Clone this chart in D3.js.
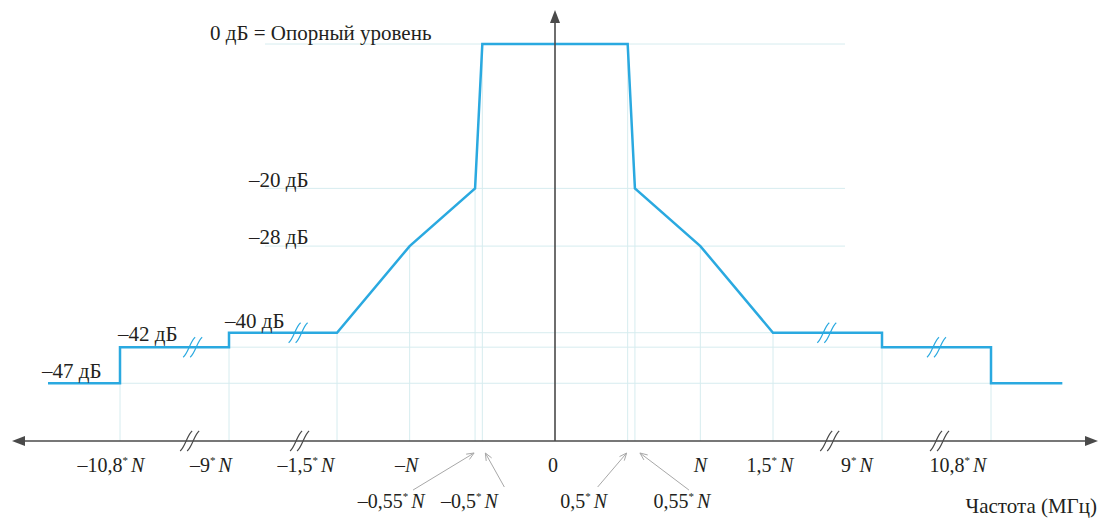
<!DOCTYPE html>
<html>
<head>
<meta charset="utf-8">
<script src="https://cdn.jsdelivr.net/npm/d3@7"></script>
<style>
  html, body { margin: 0; padding: 0; background: #fff; }
  svg { display: block; }
</style>
</head>
<body>
<svg id="chart" width="1102" height="518"></svg>
<script>
// Spectrum emission mask: frequency offset (in units of N) and level (dB)
const maskFreq  = [-12, -10.8, -10.8, -9, -9, -1.5, -1, -0.55, -0.5, 0.5, 0.55, 1, 1.5, 9, 9, 10.8, 10.8, 12];
const maskLevel = [-47, -47, -42, -42, -40, -40, -28, -20, 0, 0, -20, -28, -40, -40, -42, -42, -47, -47];

// Level annotations
const levelValues = [0, -20, -28, -40, -42, -47];
const levelLabels = ["0 дБ = Опорный уровень", "–20 дБ", "–28 дБ", "–40 дБ", "–42 дБ", "–47 дБ"];

// Frequency tick labels (first row) and arrow-pointed labels (second row)
const tickValues = [-10.8, -9, -1.5, -1, 0, 1, 1.5, 9, 10.8];
const tickLabels = ["–10,8*N", "–9*N", "–1,5*N", "–N", "0", "N", "1,5*N", "9*N", "10,8*N"];
const edgeValues = [-0.55, -0.5, 0.5, 0.55];
const edgeLabels = ["–0,55*N", "–0,5*N", "0,5*N", "0,55*N"];

// Axis breaks (frequency positions) on the axis and on the mask
const axisBreaks = [-9.65, -4.1, 5.4, 9.95];
const maskBreaks = [-9.6, -4.2, 5.2, 9.9];

const axisTitle = "Частота (МГц)";

const FONT = "'Liberation Serif', 'Times New Roman', Tinos, 'DejaVu Serif', 'Noto Serif', FreeSerif, serif";
const svg = d3.select("#chart");
const blue = "#2aa9e0";
const grid = "#d6ecef";
const axisColor = "#4a4a4a";
const ink = "#231f20";

// Piecewise (broken) frequency scale
const x = d3.scaleLinear()
  .domain([-12.6, -10.8, -9, -1.5, 1.5, 9, 10.8, 12.6])
  .range([12, 120, 229, 337, 773, 882, 991, 1098]);
const y = d3.scaleLinear().domain([-55, 0]).range([441, 44]);
const axisY = y(-55);

const pts = maskFreq.map((f, i) => [f, maskLevel[i]]);

function label(px, py, size) {
  return svg.append("text").attr("x", px).attr("y", py)
    .attr("font-family", FONT).attr("font-size", size).attr("fill", ink);
}

// ---- grid lines ----
const g = svg.append("g").attr("stroke", grid).attr("stroke-width", 1).attr("fill", "none");
const hExtent = {0: [265, 845], "-20": [265, 845], "-28": [265, 845], "-40": [x(-9), x(9)], "-42": [x(-10.8), x(10.8)], "-47": [x(-10.8), x(10.8)]};
levelValues.forEach(v => {
  const [a, b] = hExtent[v];
  g.append("line").attr("x1", a).attr("x2", b).attr("y1", y(v)).attr("y2", y(v));
});
// vertical lines from mask corners to the axis
const corners = [];
pts.forEach(([f, l]) => {
  if (Math.abs(f) === 12) return;
  const existing = corners.find(c => c[0] === f);
  if (existing) existing[1] = Math.min(existing[1], l); else corners.push([f, l]);
});
corners.forEach(([f, l]) => {
  g.append("line").attr("x1", x(f)).attr("x2", x(f)).attr("y1", y(l)).attr("y2", axisY);
});

// ---- mask ----
svg.append("path")
  .datum(pts)
  .attr("d", d3.line().x(d => x(d[0])).y(d => y(d[1])))
  .attr("fill", "none")
  .attr("stroke", blue)
  .attr("stroke-width", 2.5)
  .attr("stroke-linejoin", "miter");

// break symbol: two slanted S-curves
function breakPath(cx, cy) {
  let d = "";
  [-3.5, 3.5].forEach(dx => {
    const c = cx + dx;
    d += `M${c - 6},${cy + 10} C${c - 1},${cy + 6} ${c + 1},${cy - 6} ${c + 6},${cy - 10} `;
  });
  return d;
}
function levelAt(f) {
  for (let i = 0; i < pts.length - 1; i++) {
    const [f0, l0] = pts[i], [f1, l1] = pts[i + 1];
    if (f >= f0 && f <= f1 && f1 > f0) return l0 + (l1 - l0) * (f - f0) / (f1 - f0);
  }
  return 0;
}
maskBreaks.forEach(f => {
  svg.append("path").attr("d", breakPath(x(f), y(levelAt(f))))
    .attr("fill", "none").attr("stroke", blue).attr("stroke-width", 1.2);
});

// ---- axes ----
const ax = svg.append("g");
ax.append("line").attr("x1", x(-12.6) + 8).attr("x2", x(12.6) - 8)
  .attr("y1", axisY).attr("y2", axisY).attr("stroke", axisColor).attr("stroke-width", 1.6);
ax.append("path").attr("d", `M${x(-12.6)},${axisY} l13,-5 l0,10 z`).attr("fill", axisColor);
ax.append("path").attr("d", `M${x(12.6)},${axisY} l-13,-5 l0,10 z`).attr("fill", axisColor);
const x0 = x(0);
ax.append("line").attr("x1", x0).attr("x2", x0).attr("y1", axisY).attr("y2", 18)
  .attr("stroke", axisColor).attr("stroke-width", 1.6);
ax.append("path").attr("d", `M${x0},10 l-5,13 l10,0 z`).attr("fill", axisColor);
axisBreaks.forEach(f => {
  ax.append("path").attr("d", breakPath(x(f), axisY))
    .attr("fill", "none").attr("stroke", axisColor).attr("stroke-width", 1.2);
});

// ---- level labels ----
const levelPos = {0: [210, 40], "-20": [249, 187], "-28": [249, 244], "-40": [225, 328], "-42": [118, 341], "-47": [42, 378]};
levelValues.forEach((v, i) => {
  const [lx, ly] = levelPos[v];
  label(lx, ly, 21).text(levelLabels[i]);
});

// ---- frequency labels ----
function freqLabel(sel, str) {
  if (str.includes("*")) {
    const num = str.split("*")[0];
    sel.append("tspan").text(num);
    sel.append("tspan").attr("font-size", 11).attr("dy", -8).text("*");
    sel.append("tspan").attr("dy", 8).attr("dx", 3).attr("font-style", "italic").text("N");
  } else if (str.endsWith("N")) {
    sel.append("tspan").text(str.slice(0, -1));
    sel.append("tspan").attr("font-style", "italic").text("N");
  } else {
    sel.text(str);
  }
}
const tickShift = [-9, -18, -31, -3, -2, 0, -3, -25, -33];
tickValues.forEach((v, i) => {
  const t = label(x(v) + tickShift[i], 472, 20).attr("text-anchor", "middle");
  freqLabel(t, tickLabels[i]);
});

const edgeShift = [-84, -13, -44, 47];
const arrowTail = [[-62, 490], [22, 487], [-30, 487], [54, 490]];
const arrowHeadDx = [-1, 3, -1, 5];
const ag = svg.append("g").attr("stroke", "#a8a8a8").attr("stroke-width", 1).attr("fill", "none");
edgeValues.forEach((v, i) => {
  const t = label(x(v) + edgeShift[i], 508, 20).attr("text-anchor", "middle");
  freqLabel(t, edgeLabels[i]);
  const hx = x(v) + arrowHeadDx[i], hy = 453;
  const tx = x(v) + arrowTail[i][0], ty = arrowTail[i][1];
  ag.append("line").attr("x1", tx).attr("y1", ty).attr("x2", hx).attr("y2", hy);
  const ang = Math.atan2(ty - hy, tx - hx);
  const L = 8, w = 0.4;
  ag.append("path").attr("d",
    `M${hx + L * Math.cos(ang - w)},${hy + L * Math.sin(ang - w)} L${hx},${hy} L${hx + L * Math.cos(ang + w)},${hy + L * Math.sin(ang + w)}`);
});

label(1097, 513, 21).attr("text-anchor", "end").text(axisTitle);
</script>
</body>
</html>
